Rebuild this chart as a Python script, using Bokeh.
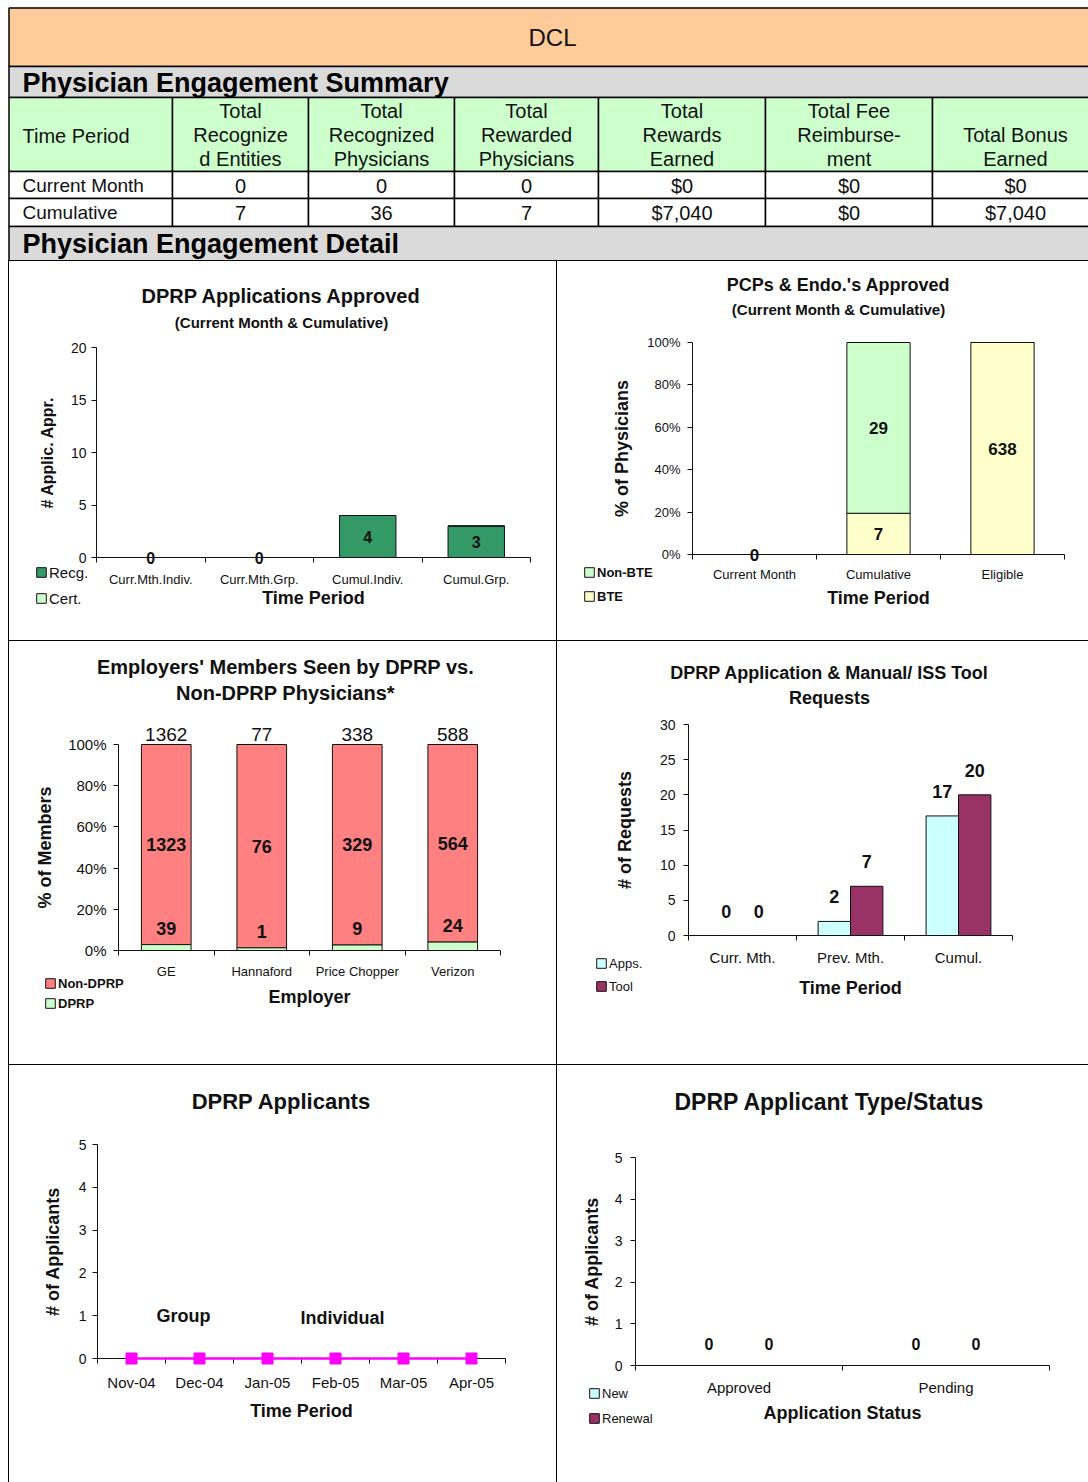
from bokeh.plotting import figure
from bokeh.layouts import column, row
from bokeh.models import (ColumnDataSource, FixedTicker, Label, LabelSet, Legend,
                          LegendItem, PrintfTickFormatter, Range1d)
from bokeh.core.properties import value
from bokeh.embed import file_html
from bokeh.resources import INLINE

FONT = "Liberation Sans"
INK = "#111111"

# ---------------- data ----------------
summary_headers = ["Time Period", "Total\nRecognize\nd Entities", "Total\nRecognized\nPhysicians",
                   "Total\nRewarded\nPhysicians", "Total\nRewards\nEarned",
                   "Total Fee\nReimburse-\nment", "Total Bonus\nEarned"]
summary_periods = ["Current Month", "Cumulative"]
recognized_entities = [0, 7]
recognized_physicians = [0, 36]
rewarded_physicians = [0, 7]
rewards_earned = [0, 7040]
fee_reimbursement = [0, 0]
bonus_earned = [0, 7040]

approved_periods = ["Curr.Mth.Indiv.", "Curr.Mth.Grp.", "Cumul.Indiv.", "Cumul.Grp."]
approved_recg = [0, 0, 4, 3]
approved_cert = [0, 0, 0, 0]

pcp_periods = ["Current Month", "Cumulative", "Eligible"]
pcp_bte = [0, 7, 638]
pcp_non_bte = [0, 29, 0]

employers = ["GE", "Hannaford", "Price Chopper", "Verizon"]
members_dprp = [39, 1, 9, 24]
members_non_dprp = [1323, 76, 329, 564]

request_periods = ["Curr. Mth.", "Prev. Mth.", "Cumul."]
requests_apps = [0, 2, 17]
requests_tool = [0, 7, 20]

applicant_months = ["Nov-04", "Dec-04", "Jan-05", "Feb-05", "Mar-05", "Apr-05"]
applicants_group = [0, 0, 0, 0, 0, 0]
applicants_individual = [0, 0, 0, 0, 0, 0]

status_labels = ["Approved", "Pending"]
status_new = [0, 0]
status_renewal = [0, 0]

# ---------------- colours ----------------
ORANGE = "#FFCC99"
GRAY = "#DADADA"
PALE_GREEN = "#CCFFCC"
SEA_GREEN = "#339966"
PALE_YELLOW = "#FFFFCC"
SALMON = "#FF8080"
PALE_CYAN = "#CCFFFF"
PLUM = "#993366"
MAGENTA = "#FF00FF"


# ---------------- summary table ----------------
def summary_table():
    t = figure(width=1088, height=260, output_backend="svg", toolbar_location=None, tools="",
               x_range=Range1d(0, 1088), y_range=Range1d(260, 0),
               x_axis_type=None, y_axis_type=None, min_border=0,
               outline_line_color=None, background_fill_color="white",
               border_fill_color="white")
    edges = [8.5, 172, 308, 454, 598, 765, 932, 1098]
    left_edge, right_edge = edges[0], edges[-1]
    line = dict(line_color="#000000", line_width=1.5)

    t.quad(left=[left_edge], right=[right_edge], top=[7.5], bottom=[66], fill_color=ORANGE, **line)
    t.quad(left=[left_edge], right=[right_edge], top=[66], bottom=[97], fill_color=GRAY, **line)
    t.quad(left=edges[:-1], right=edges[1:], top=[97] * 7, bottom=[171] * 7,
           fill_color=PALE_GREEN, **line)
    for top, bottom in ((171, 198), (198, 226)):
        t.quad(left=edges[:-1], right=edges[1:], top=[top] * 7, bottom=[bottom] * 7,
               fill_color="white", **line)
    t.quad(left=[left_edge], right=[right_edge], top=[226], bottom=[262], fill_color=GRAY, **line)

    t.text(x=[552], y=[37], text=["DCL"], text_font=value(FONT), text_font_size="24px",
           text_align="center", text_baseline="middle", text_color=INK)
    t.text(x=[22, 22], y=[82, 243],
           text=["Physician Engagement Summary", "Physician Engagement Detail"],
           text_font=value(FONT), text_font_size="27px", text_font_style="bold",
           text_align="left", text_baseline="middle", text_color="#000000")

    # header row
    centers = [(a + b) / 2 for a, b in zip(edges[:-1], edges[1:])]
    hx, hy, ht = [], [], []
    for i, h in enumerate(summary_headers[1:], start=1):
        n_lines = h.count("\n") + 1
        hx.append(centers[i])
        hy.append(158 - (n_lines - 1) * 11.75)
        ht.append(h)
    t.text(x=hx, y=hy, text=ht, text_font=value(FONT), text_font_size="20px",
           text_align="center", text_baseline="middle", text_line_height=1.1, text_color=INK)
    t.text(x=[22], y=[135], text=[summary_headers[0]], text_font=value(FONT),
           text_font_size="20px", text_align="left", text_baseline="middle", text_color=INK)

    # body rows
    row_y = [185, 212]
    t.text(x=[22, 22], y=row_y, text=summary_periods, text_font=value(FONT),
           text_font_size="19px", text_align="left", text_baseline="middle", text_color=INK)
    columns = [
        [str(v) for v in recognized_entities],
        [str(v) for v in recognized_physicians],
        [str(v) for v in rewarded_physicians],
        [f"${v:,}" for v in rewards_earned],
        [f"${v:,}" for v in fee_reimbursement],
        [f"${v:,}" for v in bonus_earned],
    ]
    vx, vy, vt = [], [], []
    for ci, col in enumerate(columns, start=1):
        for ri, txt in enumerate(col):
            vx.append(centers[ci])
            vy.append(row_y[ri])
            vt.append(txt)
    t.text(x=vx, y=vy, text=vt, text_font=value(FONT), text_font_size="20px",
           text_align="center", text_baseline="middle", text_color=INK)
    return t


# ---------------- chart helpers ----------------
def cell_styles(left_cell):
    if left_cell:
        shadow = ("inset 8px 0 0 0 #ffffff, inset 9px 0 0 0 #000000, "
                  "inset 0 1px 0 0 #000000, inset -1px 0 0 0 #000000")
    else:
        shadow = "inset 0 1px 0 0 #000000"
    return {"background-color": "#ffffff", "box-shadow": shadow}


def make_chart(width, height, plot_box, cats, y_lo, y_hi, y_ticks, left_cell,
               x_title, y_title, y_title_size="18px", x_label_size="13px",
               y_label_size="14px", x_label_standoff=8, x_title_standoff=5,
               y_label_standoff=6, y_title_standoff=12):
    # plot_box: pixel edges (left, right, top, bottom) of the plotting area in the cell
    px_l, px_r, px_t, px_b = plot_box
    n = len(cats)
    sx = (px_r - px_l) / n
    sy = (px_b - px_t) / (y_hi - y_lo)
    x_range = Range1d(-0.5 - px_l / sx, n - 0.5 + (width - px_r) / sx)
    y_range = Range1d(y_lo - (height - px_b) / sy, y_hi + px_t / sy)
    p = figure(width=width, height=height, output_backend="svg", toolbar_location=None,
               tools="", x_range=x_range, y_range=y_range, min_border=0,
               background_fill_color=None, border_fill_color=None,
               outline_line_color=None, styles=cell_styles(left_cell))
    p.grid.visible = False
    xa, ya = p.xaxis[0], p.yaxis[0]
    for ax in (xa, ya):
        ax.axis_line_color = INK
        ax.major_label_text_font = FONT
        ax.major_label_text_color = INK
        ax.axis_label_text_font = FONT
        ax.axis_label_text_color = INK
        ax.axis_label_text_font_style = "bold"
    xa.fixed_location = y_lo
    xa.bounds = (-0.5, n - 0.5)
    xa.ticker = FixedTicker(ticks=list(range(n)),
                            minor_ticks=[i - 0.5 for i in range(n + 1)])
    xa.major_label_overrides = {i: c for i, c in enumerate(cats)}
    xa.major_tick_line_color = None
    xa.major_tick_in = 0
    xa.major_tick_out = 0
    xa.minor_tick_line_color = INK
    xa.minor_tick_in = 0
    xa.minor_tick_out = 5
    xa.major_label_text_font_size = x_label_size
    xa.major_label_standoff = x_label_standoff
    xa.axis_label = x_title
    xa.axis_label_text_font_size = "18px"
    xa.axis_label_standoff = x_title_standoff

    ya.fixed_location = -0.5
    ya.bounds = (y_lo, y_hi)
    ya.ticker = FixedTicker(ticks=y_ticks)
    ya.major_tick_in = 0
    ya.major_tick_out = 5
    ya.major_tick_line_color = INK
    ya.minor_tick_line_color = None
    ya.major_label_text_font_size = y_label_size
    ya.major_label_standoff = y_label_standoff
    ya.axis_label = y_title
    ya.axis_label_text_font_size = y_title_size
    ya.axis_label_standoff = y_title_standoff
    return p


def cell_text(p, x, y_top, text, size, bold=True):
    # x from the cell's left edge, y_top from its top edge
    p.add_layout(Label(x=x, y=p.height - y_top, x_units="screen", y_units="screen", text=text,
                       text_font=FONT, text_font_size=size,
                       text_font_style="bold" if bold else "normal", text_color=INK,
                       text_align="center", text_baseline="middle"))


def value_labels(p, xs, ys, texts, size, bold=True, baseline="middle", y_offset=0):
    src = ColumnDataSource(dict(x=xs, y=ys, t=texts))
    p.add_layout(LabelSet(x="x", y="y", text="t", source=src, text_align="center",
                          text_baseline=baseline, y_offset=y_offset,
                          text_font=value(FONT), text_font_size=size,
                          text_font_style="bold" if bold else "normal", text_color=INK))


def add_legend(p, entries, left, bottom_top, size, spacing, bold=False):
    leg = Legend(items=[LegendItem(label=lab, renderers=[r]) for lab, r in entries],
                 location=(left, p.height - bottom_top), orientation="vertical",
                 glyph_width=12, glyph_height=12, label_standoff=2, label_height=20,
                 spacing=spacing, padding=0, margin=0,
                 label_text_font=FONT, label_text_font_size=size,
                 label_text_font_style="bold" if bold else "normal",
                 label_text_color=INK, border_line_color=None, background_fill_alpha=0)
    p.add_layout(leg)


BAR_LINE = dict(line_color=INK, line_width=1)

# ---------------- DPRP Applications Approved ----------------
c1 = make_chart(557, 380, (96, 530, 87, 297), approved_periods, 0, 20, [0, 5, 10, 15, 20],
                True, "Time Period", "# Applic. Appr.", y_title_size="16px",
                x_label_size="13px", y_label_size="14px", x_label_standoff=9,
                x_title_standoff=-2, y_label_standoff=5, y_title_standoff=12)
xs1 = list(range(len(approved_periods)))
r_recg = c1.vbar(x=xs1, top=approved_recg, bottom=0, width=0.52, fill_color=SEA_GREEN, **BAR_LINE)
r_cert = c1.vbar(x=xs1, top=[a + b for a, b in zip(approved_recg, approved_cert)],
                 bottom=approved_recg, width=0.52, fill_color=PALE_GREEN, **BAR_LINE)
value_labels(c1, xs1, [v / 2 for v in approved_recg], [str(v) for v in approved_recg], "16px")
cell_text(c1, 281, 35, "DPRP Applications Approved", "20px")
cell_text(c1, 281, 62, "(Current Month & Cumulative)", "15px")
add_legend(c1, [("Recg.", r_recg), ("Cert.", r_cert)], 35, 348, "15px", 6)

# ---------------- PCPs & Endo.'s Approved ----------------
c2 = make_chart(531, 380, (135, 507, 82, 294), pcp_periods, 0, 100, [0, 20, 40, 60, 80, 100],
                False, "Time Period", "% of Physicians", y_title_size="18px",
                x_label_size="13px", y_label_size="13px", x_label_standoff=7,
                x_title_standoff=3, y_label_standoff=7, y_title_standoff=12)
c2.yaxis[0].formatter = PrintfTickFormatter(format="%d%%")
xs2 = list(range(len(pcp_periods)))
pcp_total = [a + b for a, b in zip(pcp_bte, pcp_non_bte)]
bte_pct = [100 * a / t if t else 0 for a, t in zip(pcp_bte, pcp_total)]
non_bte_top = [100 if t else 0 for t in pcp_total]
r_bte = c2.vbar(x=xs2, top=bte_pct, bottom=0, width=0.51, fill_color=PALE_YELLOW, **BAR_LINE)
r_nbte = c2.vbar(x=xs2, top=non_bte_top, bottom=bte_pct, width=0.51, fill_color=PALE_GREEN,
                 **BAR_LINE)
lx2, ly2, lt2 = [], [], []
for i in xs2:
    lx2.append(i)
    ly2.append(bte_pct[i] / 2)
    lt2.append(str(pcp_bte[i]))
    if pcp_non_bte[i] > 0:
        lx2.append(i)
        ly2.append((bte_pct[i] + non_bte_top[i]) / 2)
        lt2.append(str(pcp_non_bte[i]))
value_labels(c2, lx2, ly2, lt2, "17px")
cell_text(c2, 281, 24, "PCPs & Endo.'s Approved", "18px")
cell_text(c2, 281, 49, "(Current Month & Cumulative)", "15px")
add_legend(c2, [("Non-BTE", r_nbte), ("BTE", r_bte)], 26, 346, "13px", 4, bold=True)

# ---------------- Employers' Members ----------------
c3 = make_chart(557, 424, (118, 500, 104, 310), employers, 0, 100, [0, 20, 40, 60, 80, 100],
                True, "Employer", "% of Members", y_title_size="18px",
                x_label_size="13px", y_label_size="15px", x_label_standoff=8,
                x_title_standoff=5, y_label_standoff=7, y_title_standoff=10)
c3.yaxis[0].formatter = PrintfTickFormatter(format="%d%%")
xs3 = list(range(len(employers)))
members_total = [a + b for a, b in zip(members_dprp, members_non_dprp)]
dprp_pct = [100 * a / t for a, t in zip(members_dprp, members_total)]
r_non = c3.vbar(x=xs3, top=100, bottom=dprp_pct, width=0.52, fill_color=SALMON, **BAR_LINE)
r_dprp = c3.vbar(x=xs3, top=dprp_pct, bottom=0, width=0.52, fill_color=PALE_GREEN, **BAR_LINE)
value_labels(c3, xs3, [100] * len(xs3), [str(v) for v in members_total], "19px", bold=False,
             baseline="bottom", y_offset=4)
value_labels(c3, xs3, [(d + 100) / 2 for d in dprp_pct], [str(v) for v in members_non_dprp],
             "18px")
value_labels(c3, xs3, dprp_pct, [str(v) for v in members_dprp], "18px", baseline="bottom",
             y_offset=10)
cell_text(c3, 285, 26, "Employers' Members Seen by DPRP vs.", "20px")
cell_text(c3, 285, 52, "Non-DPRP Physicians*", "20px")
add_legend(c3, [("Non-DPRP", r_non), ("DPRP", r_dprp)], 44, 373, "13px", 0, bold=True)

# ---------------- Application & Tool Requests ----------------
c4 = make_chart(531, 424, (131, 455, 84, 295), request_periods, 0, 30,
                [0, 5, 10, 15, 20, 25, 30], False, "Time Period", "# of Requests",
                y_title_size="18px", x_label_size="15px", y_label_size="14px",
                x_label_standoff=8, x_title_standoff=9, y_label_standoff=8,
                y_title_standoff=22)
xs4 = list(range(len(request_periods)))
xa4 = [i - 0.15 for i in xs4]
xt4 = [i + 0.15 for i in xs4]
r_apps = c4.vbar(x=xa4, top=requests_apps, bottom=0, width=0.3, fill_color=PALE_CYAN, **BAR_LINE)
r_tool = c4.vbar(x=xt4, top=requests_tool, bottom=0, width=0.3, fill_color=PLUM, **BAR_LINE)
value_labels(c4, xa4, requests_apps, [str(v) for v in requests_apps], "18px",
             baseline="bottom", y_offset=18)
value_labels(c4, xt4, requests_tool, [str(v) for v in requests_tool], "18px",
             baseline="bottom", y_offset=18)
cell_text(c4, 272, 32, "DPRP Application & Manual/ ISS Tool", "18px")
cell_text(c4, 272, 57, "Requests", "18px")
add_legend(c4, [("Apps.", r_apps), ("Tool", r_tool)], 38, 356, "13px", 3)

# ---------------- DPRP Applicants ----------------
c5 = make_chart(557, 418, (97, 505, 80, 294), applicant_months, 0, 5, [0, 1, 2, 3, 4, 5],
                True, "Time Period", "# of Applicants", y_title_size="18px",
                x_label_size="15px", y_label_size="14px", x_label_standoff=10,
                x_title_standoff=7, y_label_standoff=6, y_title_standoff=13)
xs5 = list(range(len(applicant_months)))
c5.line(x=xs5, y=applicants_group, line_color=MAGENTA, line_width=2, level="overlay")
c5.line(x=xs5, y=applicants_individual, line_color=MAGENTA, line_width=2, level="overlay")
c5.scatter(x=xs5, y=applicants_individual, marker="square", size=11, fill_color=MAGENTA,
           line_color=MAGENTA, level="overlay")
cell_text(c5, 281, 37, "DPRP Applicants", "22px")
cell_text(c5, 183, 251, "Group", "18px")
cell_text(c5, 342, 253, "Individual", "18px")

# ---------------- Applicant Type / Status ----------------
c6 = make_chart(531, 418, (78, 492, 93, 301), status_labels, 0, 5, [0, 1, 2, 3, 4, 5],
                False, "Application Status", "# of Applicants", y_title_size="18px",
                x_label_size="15px", y_label_size="14px", x_label_standoff=8,
                x_title_standoff=4, y_label_standoff=8, y_title_standoff=10)
xs6 = list(range(len(status_labels)))
xn6 = [i - 0.145 for i in xs6]
xr6 = [i + 0.145 for i in xs6]
r_new = c6.vbar(x=xn6, top=status_new, bottom=0, width=0.29, fill_color=PALE_CYAN, **BAR_LINE)
r_ren = c6.vbar(x=xr6, top=status_renewal, bottom=0, width=0.29, fill_color=PLUM, **BAR_LINE)
value_labels(c6, xn6, status_new, [str(v) for v in status_new], "16px", y_offset=22)
value_labels(c6, xr6, status_renewal, [str(v) for v in status_renewal], "16px", y_offset=22)
cell_text(c6, 272, 37, "DPRP Applicant Type/Status", "23px")
add_legend(c6, [("New", r_new), ("Renewal", r_ren)], 31, 364, "13px", 5)

page = column(summary_table(), row(c1, c2), row(c3, c4), row(c5, c6))
open("out.html", "w").write(file_html(page, INLINE))
